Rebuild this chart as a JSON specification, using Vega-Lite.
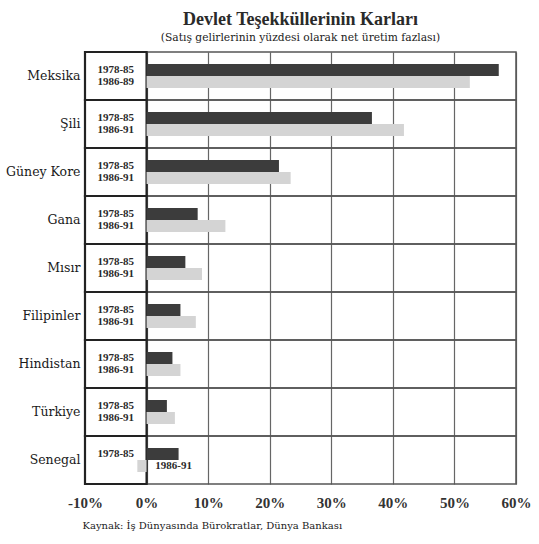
{
  "$schema": "https://vega.github.io/schema/vega-lite/v6.json",
  "width": 431,
  "height": 432,
  "autosize": "none",
  "padding": {"left": 85, "top": 52, "right": 23, "bottom": 60},
  "background": "white",
  "title": {
    "text": "Devlet Teşekküllerinin Karları",
    "subtitle": "(Satış gelirlerinin yüzdesi olarak net üretim fazlası)",
    "font": "Liberation Serif",
    "fontSize": 18,
    "fontWeight": "bold",
    "color": "#2a2a2a",
    "subtitleFont": "DejaVu Serif",
    "subtitleFontSize": 10.7,
    "subtitleColor": "#222222",
    "subtitlePadding": 4,
    "offset": 8,
    "anchor": "middle"
  },
  "config": {
    "view": {"stroke": null},
    "font": "DejaVu Serif"
  },
  "datasets": {
    "countries": [
      {"country": "Meksika"}, {"country": "Şili"}, {"country": "Güney Kore"},
      {"country": "Gana"}, {"country": "Mısır"}, {"country": "Filipinler"},
      {"country": "Hindistan"}, {"country": "Türkiye"}, {"country": "Senegal"}
    ],
    "bars": [
      {"country": "Meksika", "period": "1978-85", "value": 57.2},
      {"country": "Meksika", "period": "1986-91", "value": 52.5},
      {"country": "Şili", "period": "1978-85", "value": 36.6},
      {"country": "Şili", "period": "1986-91", "value": 41.8},
      {"country": "Güney Kore", "period": "1978-85", "value": 21.5},
      {"country": "Güney Kore", "period": "1986-91", "value": 23.4},
      {"country": "Gana", "period": "1978-85", "value": 8.3},
      {"country": "Gana", "period": "1986-91", "value": 12.8},
      {"country": "Mısır", "period": "1978-85", "value": 6.3},
      {"country": "Mısır", "period": "1986-91", "value": 9.0},
      {"country": "Filipinler", "period": "1978-85", "value": 5.5},
      {"country": "Filipinler", "period": "1986-91", "value": 8.0},
      {"country": "Hindistan", "period": "1978-85", "value": 4.2},
      {"country": "Hindistan", "period": "1986-91", "value": 5.5},
      {"country": "Türkiye", "period": "1978-85", "value": 3.3},
      {"country": "Türkiye", "period": "1986-91", "value": 4.6},
      {"country": "Senegal", "period": "1978-85", "value": 5.2},
      {"country": "Senegal", "period": "1986-91", "value": -1.5}
    ],
    "labels": [
      {"country": "Meksika", "period": "1978-85", "label": "1978-85", "lx": -5},
      {"country": "Meksika", "period": "1986-91", "label": "1986-89", "lx": -5},
      {"country": "Şili", "period": "1978-85", "label": "1978-85", "lx": -5},
      {"country": "Şili", "period": "1986-91", "label": "1986-91", "lx": -5},
      {"country": "Güney Kore", "period": "1978-85", "label": "1978-85", "lx": -5},
      {"country": "Güney Kore", "period": "1986-91", "label": "1986-91", "lx": -5},
      {"country": "Gana", "period": "1978-85", "label": "1978-85", "lx": -5},
      {"country": "Gana", "period": "1986-91", "label": "1986-91", "lx": -5},
      {"country": "Mısır", "period": "1978-85", "label": "1978-85", "lx": -5},
      {"country": "Mısır", "period": "1986-91", "label": "1986-91", "lx": -5},
      {"country": "Filipinler", "period": "1978-85", "label": "1978-85", "lx": -5},
      {"country": "Filipinler", "period": "1986-91", "label": "1986-91", "lx": -5},
      {"country": "Hindistan", "period": "1978-85", "label": "1978-85", "lx": -5},
      {"country": "Hindistan", "period": "1986-91", "label": "1986-91", "lx": -5},
      {"country": "Türkiye", "period": "1978-85", "label": "1978-85", "lx": -5},
      {"country": "Türkiye", "period": "1986-91", "label": "1986-91", "lx": -5},
      {"country": "Senegal", "period": "1978-85", "label": "1978-85", "lx": -5},
      {"country": "Senegal", "period": "1986-91", "label": "1986-91", "lx": 4.4}
    ]
  },
  "encoding": {
    "y": {
      "field": "country",
      "type": "nominal",
      "sort": ["Meksika", "Şili", "Güney Kore", "Gana", "Mısır", "Filipinler", "Hindistan", "Türkiye", "Senegal"],
      "scale": {"paddingInner": 0, "paddingOuter": 0},
      "axis": {
        "title": null,
        "domain": false,
        "ticks": false,
        "grid": false,
        "labelPadding": 5,
        "labelFont": "DejaVu Serif",
        "labelFontSize": 12.5,
        "labelColor": "#1a1a1a"
      }
    }
  },
  "layer": [
    {
      "data": {"name": "countries"},
      "mark": {"type": "rect", "fill": null, "stroke": "#555555", "strokeWidth": 1.5},
      "encoding": {
        "x": {
          "datum": -10,
          "type": "quantitative",
          "scale": {"domain": [-10, 60], "nice": false, "zero": false},
          "axis": {
            "values": [-10, 0, 10, 20, 30, 40, 50, 60],
            "labelExpr": "datum.value + '%'",
            "domain": false,
            "ticks": false,
            "grid": true,
            "gridColor": "#666666",
            "gridWidth": 1.2,
            "gridOpacity": 1,
            "labelFont": "Liberation Serif",
            "labelFontSize": 15,
            "labelFontWeight": "bold",
            "labelColor": "#333333",
            "labelPadding": 11,
            "labelAlign": "center",
            "labelDx": 6,
            "labelFlush": false,
            "title": "Kaynak: İş Dünyasında Bürokratlar, Dünya Bankası",
            "titleFont": "DejaVu Serif",
            "titleFontSize": 10,
            "titleFontWeight": "normal",
            "titleColor": "#222222",
            "titleAnchor": "start",
            "titleAlign": "left",
            "titleBaseline": "alphabetic",
            "titleX": -3,
            "titleY": 44
          }
        },
        "x2": {"datum": 60}
      }
    },
    {
      "data": {"name": "countries"},
      "mark": {"type": "rect", "fill": "white", "stroke": "#222222", "strokeWidth": 2.2},
      "encoding": {
        "x": {"datum": -10, "type": "quantitative"},
        "x2": {"datum": 0}
      }
    },
    {
      "data": {"name": "bars"},
      "mark": {"type": "bar"},
      "encoding": {
        "x": {"field": "value", "type": "quantitative"},
        "yOffset": {
          "field": "period",
          "type": "nominal",
          "sort": ["1978-85", "1986-91"],
          "scale": {"paddingInner": 0, "paddingOuter": 1.0}
        },
        "color": {
          "field": "period",
          "type": "nominal",
          "scale": {"domain": ["1978-85", "1986-91"], "range": ["#3c3c3c", "#d4d4d4"]},
          "legend": null
        }
      }
    },
    {
      "data": {"name": "labels"},
      "mark": {"type": "text", "font": "Liberation Serif", "fontSize": 11, "fontWeight": "bold", "color": "#2a2a2a", "align": "center", "baseline": "middle"},
      "encoding": {
        "x": {"field": "lx", "type": "quantitative"},
        "yOffset": {
          "field": "period",
          "type": "nominal",
          "sort": ["1978-85", "1986-91"]
        },
        "text": {"field": "label"}
      }
    }
  ]
}
